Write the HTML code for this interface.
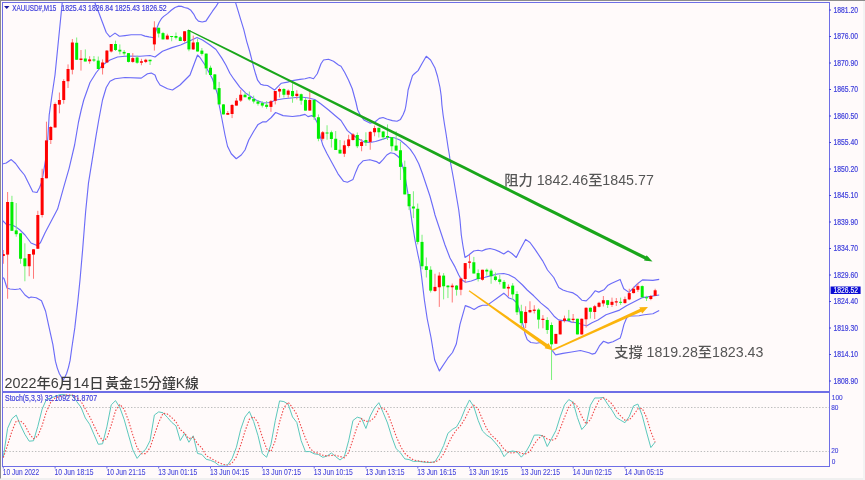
<!DOCTYPE html><html><head><meta charset="utf-8"><style>
html,body{margin:0;padding:0;background:#fffafa;width:865px;height:480px;overflow:hidden}
svg{display:block}
.ax{font-family:"Liberation Sans",sans-serif;font-size:8.5px;fill:#4242dc;stroke:#4242dc;stroke-width:0.2px}
.cj{font-family:"Liberation Sans","Noto Sans CJK TC",sans-serif;fill:#555;font-weight:500}
</style></head><body>
<svg width="865" height="480" viewBox="0 0 865 480">
<rect x="0" y="0" width="865" height="480" fill="#fffafa"/>
<rect x="0" y="478" width="865" height="2" fill="#f0f0f0"/>
<rect x="863" y="0" width="2" height="480" fill="#f3f3f3"/>
<rect x="0" y="0" width="865" height="1" fill="#8c8c8c"/>
<rect x="0" y="0" width="1" height="478.5" fill="#8c8c8c"/>
<defs><clipPath id="cm"><rect x="2.5" y="2.5" width="826.5" height="388"/></clipPath>
<clipPath id="cs"><rect x="2.5" y="392.5" width="826.5" height="73"/></clipPath></defs>
<g clip-path="url(#cm)" fill="none" stroke="#6c6cf8" stroke-width="1.15" stroke-linejoin="round">
<path d="M2.30,164.00 L6.25,163.00 L11.25,159.60 L15.60,163.50 L19.80,169.30 L24.50,175.00 L28.60,183.30 L32.80,191.70 L37.00,192.50 L39.60,187.50 L41.70,182.30 L43.75,170.80 L45.80,158.30 L46.90,150.00 L48.00,135.00 L49.20,115.00 L52.00,95.00 L55.00,75.00 L57.00,55.00 L58.75,37.50 L61.25,12.50 L62.50,0.00"/>
<path d="M93.75,0.00 L98.75,12.50 L102.50,22.50 L106.25,32.50 L109.90,36.90 L115.00,33.10 L119.40,36.25 L125.00,35.60 L131.25,34.75 L141.25,34.75 L145.00,36.10 L149.00,36.90 L152.50,37.50 L153.90,38.00 L155.30,32.80 L157.20,27.20 L159.10,22.50 L161.40,18.70 L163.70,16.40 L167.50,13.60 L171.20,10.30 L175.00,7.50 L178.70,6.10 L181.60,6.40 L184.40,7.50 L188.10,8.40 L190.90,10.30 L193.70,14.10 L196.10,18.70 L198.40,21.10 L202.20,22.00 L205.90,21.10 L208.70,16.90 L212.50,11.20 L216.20,6.10 L218.60,2.30 L219.50,0.00"/>
<path d="M234.70,0.00 L235.50,2.40 L237.80,9.90 L240.80,19.80 L243.80,29.70 L246.75,41.60 L249.70,51.50 L251.70,59.40 L253.70,67.30 L255.70,74.30 L257.60,80.20 L260.60,84.20 L263.60,85.10 L267.50,85.50 L271.50,88.10 L274.50,90.10 L277.40,87.10 L281.40,83.20 L287.50,82.10 L292.50,80.60 L300.00,79.40 L305.00,78.75 L309.75,77.50 L313.50,78.75 L317.25,73.75 L321.00,63.75 L323.50,60.00 L328.50,59.25 L333.50,61.25 L338.50,65.00 L341.00,66.25 L344.75,72.50 L348.50,80.00 L352.25,88.75 L356.00,102.50 L357.70,110.00 L360.50,115.60 L364.30,120.30 L369.90,123.10 L374.60,122.20 L379.30,118.40 L383.00,117.50 L386.80,119.00 L392.40,120.60 L397.00,121.20 L400.50,119.40 L403.20,114.50 L405.00,110.00 L405.80,106.25 L407.50,95.00 L408.10,90.00 L410.00,83.75 L412.50,75.60 L414.40,73.75 L418.10,70.60 L421.90,63.75 L426.25,56.25 L430.60,60.00 L435.00,68.10 L437.50,76.25 L440.00,87.50 L441.25,96.25 L441.90,105.00 L443.10,115.00 L444.40,123.75 L446.25,135.00 L448.10,147.50 L449.40,155.00 L450.00,160.00 L451.90,170.00 L453.75,180.00 L455.60,191.25 L457.50,202.50 L458.75,210.00 L460.00,220.00 L461.30,235.00 L462.80,245.00 L465.00,257.50 L468.75,255.00 L473.75,251.00 L478.10,250.25 L481.90,251.00 L485.60,249.40 L490.00,248.50 L495.00,249.75 L500.00,251.90 L503.75,254.00 L508.10,251.00 L511.90,253.50 L516.25,257.50 L520.60,248.75 L525.60,239.40 L530.00,242.50 L535.00,249.40 L542.50,260.60 L547.50,270.00 L553.75,277.50 L558.75,287.50 L562.90,290.00 L567.30,291.50 L573.10,292.90 L577.50,295.80 L581.80,300.20 L586.20,300.90 L590.60,296.60 L595.10,290.80 L598.75,292.10 L604.00,289.80 L607.60,285.60 L611.25,283.50 L620.10,279.40 L623.75,288.75 L629.00,292.40 L637.80,283.50 L642.50,279.90 L652.90,280.40 L659.20,279.40"/>
<path d="M2.00,220.00 L7.00,225.00 L11.00,224.50 L16.00,227.00 L20.00,230.00 L25.00,235.00 L31.00,243.00 L37.00,245.50 L40.40,242.70 L45.20,232.40 L51.40,220.80 L57.60,209.10 L63.30,188.70 L69.10,168.30 L74.60,145.00 L78.50,122.00 L81.20,110.00 L83.75,100.00 L90.00,82.50 L96.25,72.50 L102.50,65.00 L110.00,60.00 L117.50,57.00 L127.50,56.00 L140.00,56.25 L150.00,55.50 L155.00,57.00 L162.50,51.25 L172.00,47.60 L180.60,45.00 L189.00,41.20 L197.00,37.50 L202.50,40.00 L210.00,45.00 L216.00,49.50 L222.00,58.40 L226.00,65.30 L229.90,73.30 L233.90,79.20 L239.80,87.10 L245.80,93.10 L248.50,95.00 L256.00,100.00 L263.50,103.00 L269.75,102.50 L276.00,100.00 L283.50,98.75 L291.00,98.00 L301.00,97.00 L308.50,98.00 L314.75,99.50 L321.00,104.00 L328.60,110.00 L335.00,115.50 L341.00,120.50 L347.40,130.60 L353.00,135.30 L358.70,139.10 L364.30,141.90 L369.90,142.50 L375.50,141.50 L383.00,139.10 L388.70,137.20 L394.30,137.80 L399.90,140.00 L405.60,144.70 L410.30,149.40 L414.50,155.50 L418.75,163.75 L422.50,173.75 L426.25,185.00 L430.00,196.25 L433.75,210.00 L435.00,215.00 L440.00,230.00 L445.00,245.00 L450.00,258.00 L455.00,266.90 L458.75,275.00 L461.25,279.40 L465.60,282.25 L471.25,281.00 L477.50,278.75 L485.00,277.25 L491.25,275.60 L497.50,274.00 L503.75,273.50 L508.75,274.75 L515.00,278.10 L522.50,285.00 L527.20,290.00 L533.70,295.80 L541.00,303.10 L548.30,309.00 L554.10,316.20 L558.50,319.90 L562.90,320.60 L567.30,320.60 L571.60,322.10 L577.50,322.80 L583.30,325.00 L586.90,325.70 L592.00,322.80 L598.00,319.90 L606.00,314.80 L619.60,310.10 L626.90,305.40 L635.20,301.25 L642.50,297.60 L659.20,295.00"/>
<path d="M2.00,277.00 L4.00,278.50 L7.00,288.00 L10.00,289.00 L15.00,289.50 L19.00,289.00 L20.00,288.50 L25.00,295.00 L29.00,298.00 L31.00,297.00 L36.25,297.70 L41.50,300.80 L45.60,311.25 L48.75,325.80 L52.90,344.60 L55.40,361.20 L57.30,368.10 L59.30,373.50 L62.40,378.90 L63.10,380.10 L64.70,377.40 L66.60,373.50 L68.50,367.30 L70.10,360.40 L71.70,348.75 L74.80,327.90 L77.90,300.80 L80.00,280.00 L82.60,250.00 L85.60,212.00 L88.50,182.90 L92.90,155.70 L96.00,136.20 L98.75,120.00 L102.50,100.00 L106.25,87.50 L110.00,81.25 L115.00,78.75 L125.00,77.50 L141.25,78.10 L147.50,73.75 L151.25,73.10 L155.00,75.00 L156.90,80.00 L160.00,85.00 L167.50,88.75 L172.50,90.00 L180.00,85.00 L190.00,75.00 L197.50,55.00 L200.00,57.50 L205.00,65.00 L212.50,79.00 L217.50,94.00 L219.40,106.25 L221.90,118.75 L225.00,135.00 L227.50,146.25 L231.25,153.75 L236.25,158.75 L241.25,155.00 L245.00,150.00 L248.75,140.00 L253.75,131.25 L258.10,124.40 L262.50,121.90 L266.25,121.90 L271.25,117.50 L275.60,112.50 L283.10,115.60 L292.50,116.50 L300.00,115.60 L305.00,114.40 L308.00,116.60 L311.75,115.60 L314.60,117.50 L317.40,123.10 L320.20,136.30 L323.00,145.60 L326.80,153.20 L332.40,163.50 L338.00,173.80 L343.60,181.30 L347.40,182.20 L353.00,179.40 L355.80,171.90 L358.70,165.30 L363.30,160.70 L369.90,159.70 L376.50,161.60 L379.30,163.50 L383.00,159.70 L386.80,155.00 L390.50,152.80 L394.30,153.50 L398.10,156.50 L400.90,159.70 L402.70,166.30 L404.60,173.80 L406.50,185.00 L408.40,196.30 L410.00,208.00 L412.00,222.00 L415.00,240.00 L418.00,255.00 L420.00,264.00 L422.00,280.00 L424.40,300.00 L427.20,318.75 L431.00,337.50 L434.70,360.00 L439.40,370.90 L447.80,358.20 L452.50,352.50 L456.30,344.00 L460.00,324.40 L465.30,305.60 L469.40,307.10 L474.10,309.40 L478.80,306.60 L482.50,305.25 L487.20,305.25 L491.90,301.90 L497.30,298.00 L503.80,293.20 L506.00,295.10 L509.00,298.00 L513.30,299.50 L517.00,303.10 L519.20,309.00 L521.30,319.20 L523.50,326.40 L525.00,333.70 L527.20,339.60 L530.80,342.50 L536.60,343.20 L540.30,342.50 L543.20,343.20 L546.90,344.70 L549.80,346.90 L552.70,351.20 L555.60,354.90 L562.90,353.40 L571.60,352.00 L580.40,350.50 L589.10,352.70 L592.00,354.10 L595.00,353.40 L596.25,351.70 L599.40,345.90 L603.50,341.25 L608.20,343.10 L612.90,341.80 L620.20,338.10 L621.80,332.90 L623.90,324.60 L626.50,318.30 L628.50,315.70 L632.70,316.00 L639.00,315.70 L644.20,314.70 L652.90,313.75 L659.20,310.60"/>
</g>
<g clip-path="url(#cm)">
<rect x="2.78" y="250.00" width="1" height="13.75" fill="#ff7a7a"/>
<rect x="1.78" y="254.00" width="3" height="2.00" fill="#ff0000"/>
<rect x="7.10" y="192.00" width="1" height="106.75" fill="#ff7a7a"/>
<rect x="6.10" y="202.00" width="3" height="52.60" fill="#ff0000"/>
<rect x="11.42" y="195.80" width="1" height="35.00" fill="#7cf07c"/>
<rect x="10.42" y="202.00" width="3" height="28.80" fill="#00ee00"/>
<rect x="15.73" y="203.00" width="1" height="33.70" fill="#7cf07c"/>
<rect x="14.73" y="230.40" width="3" height="3.80" fill="#00ee00"/>
<rect x="20.05" y="233.00" width="1" height="30.75" fill="#7cf07c"/>
<rect x="19.05" y="233.30" width="3" height="25.45" fill="#00ee00"/>
<rect x="24.37" y="243.30" width="1" height="37.95" fill="#7cf07c"/>
<rect x="23.37" y="258.30" width="3" height="7.95" fill="#00ee00"/>
<rect x="28.69" y="254.00" width="1" height="22.25" fill="#ff7a7a"/>
<rect x="27.69" y="254.00" width="3" height="12.25" fill="#ff0000"/>
<rect x="33.00" y="249.00" width="1" height="29.75" fill="#ff7a7a"/>
<rect x="32.00" y="249.30" width="3" height="5.30" fill="#ff0000"/>
<rect x="37.32" y="210.80" width="1" height="38.20" fill="#ff7a7a"/>
<rect x="36.32" y="215.00" width="3" height="33.75" fill="#ff0000"/>
<rect x="41.64" y="168.75" width="1" height="48.75" fill="#ff7a7a"/>
<rect x="40.64" y="178.00" width="3" height="37.00" fill="#ff0000"/>
<rect x="45.95" y="121.70" width="1" height="56.60" fill="#ff7a7a"/>
<rect x="44.95" y="140.40" width="3" height="37.90" fill="#ff0000"/>
<rect x="50.27" y="126.00" width="1" height="18.00" fill="#ff7a7a"/>
<rect x="49.27" y="127.00" width="3" height="13.00" fill="#ff0000"/>
<rect x="54.59" y="102.50" width="1" height="25.00" fill="#ff7a7a"/>
<rect x="53.59" y="104.00" width="3" height="23.50" fill="#ff0000"/>
<rect x="58.90" y="92.50" width="1" height="20.80" fill="#ff7a7a"/>
<rect x="57.90" y="100.00" width="3" height="4.60" fill="#ff0000"/>
<rect x="63.22" y="79.20" width="1" height="24.55" fill="#ff7a7a"/>
<rect x="62.22" y="81.00" width="3" height="19.00" fill="#ff0000"/>
<rect x="67.54" y="64.40" width="1" height="23.60" fill="#ff7a7a"/>
<rect x="66.54" y="69.00" width="3" height="12.25" fill="#ff0000"/>
<rect x="71.85" y="39.00" width="1" height="35.40" fill="#ff7a7a"/>
<rect x="70.85" y="42.50" width="3" height="27.25" fill="#ff0000"/>
<rect x="76.17" y="37.50" width="1" height="22.50" fill="#7cf07c"/>
<rect x="75.17" y="42.75" width="3" height="17.00" fill="#00ee00"/>
<rect x="80.49" y="50.00" width="1" height="20.60" fill="#ff7a7a"/>
<rect x="79.49" y="58.50" width="3" height="1.50" fill="#ff0000"/>
<rect x="84.81" y="49.40" width="1" height="12.10" fill="#7cf07c"/>
<rect x="83.81" y="58.50" width="3" height="3.00" fill="#00ee00"/>
<rect x="89.12" y="56.25" width="1" height="7.50" fill="#ff7a7a"/>
<rect x="88.12" y="59.40" width="3" height="1.85" fill="#ff0000"/>
<rect x="93.44" y="56.00" width="1" height="6.00" fill="#7cf07c"/>
<rect x="92.44" y="59.40" width="3" height="1.20" fill="#00ee00"/>
<rect x="97.76" y="56.50" width="1" height="12.50" fill="#7cf07c"/>
<rect x="96.76" y="60.60" width="3" height="8.40" fill="#00ee00"/>
<rect x="102.07" y="59.40" width="1" height="15.10" fill="#ff7a7a"/>
<rect x="101.07" y="62.50" width="3" height="5.60" fill="#ff0000"/>
<rect x="106.39" y="50.00" width="1" height="12.50" fill="#ff7a7a"/>
<rect x="105.39" y="50.60" width="3" height="11.90" fill="#ff0000"/>
<rect x="110.71" y="44.00" width="1" height="8.50" fill="#ff7a7a"/>
<rect x="109.71" y="44.00" width="3" height="7.50" fill="#ff0000"/>
<rect x="115.03" y="40.60" width="1" height="10.40" fill="#7cf07c"/>
<rect x="114.03" y="44.00" width="3" height="6.00" fill="#00ee00"/>
<rect x="119.34" y="44.40" width="1" height="10.00" fill="#7cf07c"/>
<rect x="118.34" y="49.75" width="3" height="1.75" fill="#00ee00"/>
<rect x="123.66" y="50.00" width="1" height="5.60" fill="#7cf07c"/>
<rect x="122.66" y="51.90" width="3" height="1.60" fill="#00ee00"/>
<rect x="127.98" y="53.00" width="1" height="9.50" fill="#7cf07c"/>
<rect x="126.98" y="53.10" width="3" height="8.80" fill="#00ee00"/>
<rect x="132.29" y="53.10" width="1" height="9.65" fill="#ff7a7a"/>
<rect x="131.29" y="58.10" width="3" height="3.80" fill="#ff0000"/>
<rect x="136.61" y="55.60" width="1" height="8.15" fill="#7cf07c"/>
<rect x="135.61" y="57.50" width="3" height="5.25" fill="#00ee00"/>
<rect x="140.93" y="58.75" width="1" height="6.50" fill="#ff7a7a"/>
<rect x="139.93" y="61.25" width="3" height="1.50" fill="#ff0000"/>
<rect x="145.24" y="58.75" width="1" height="4.35" fill="#ff7a7a"/>
<rect x="144.24" y="59.75" width="3" height="2.15" fill="#ff0000"/>
<rect x="149.56" y="59.75" width="1" height="5.25" fill="#7cf07c"/>
<rect x="148.56" y="59.75" width="3" height="1.50" fill="#00ee00"/>
<rect x="153.88" y="21.25" width="1" height="29.35" fill="#ff7a7a"/>
<rect x="152.88" y="27.50" width="3" height="16.90" fill="#ff0000"/>
<rect x="158.19" y="27.75" width="1" height="9.75" fill="#7cf07c"/>
<rect x="157.19" y="27.75" width="3" height="5.75" fill="#00ee00"/>
<rect x="162.51" y="31.90" width="1" height="7.50" fill="#7cf07c"/>
<rect x="161.51" y="33.10" width="3" height="6.30" fill="#00ee00"/>
<rect x="166.83" y="33.75" width="1" height="5.65" fill="#ff7a7a"/>
<rect x="165.83" y="35.60" width="3" height="3.80" fill="#ff0000"/>
<rect x="171.15" y="36.00" width="1" height="5.25" fill="#7cf07c"/>
<rect x="170.15" y="36.00" width="3" height="1.00" fill="#00ee00"/>
<rect x="175.46" y="32.50" width="1" height="6.90" fill="#7cf07c"/>
<rect x="174.46" y="36.00" width="3" height="1.75" fill="#00ee00"/>
<rect x="179.78" y="36.00" width="1" height="5.00" fill="#7cf07c"/>
<rect x="178.78" y="37.25" width="3" height="3.75" fill="#00ee00"/>
<rect x="184.10" y="31.25" width="1" height="11.25" fill="#ff7a7a"/>
<rect x="183.10" y="31.25" width="3" height="9.75" fill="#ff0000"/>
<rect x="188.41" y="30.00" width="1" height="21.25" fill="#7cf07c"/>
<rect x="187.41" y="30.00" width="3" height="19.40" fill="#00ee00"/>
<rect x="192.73" y="35.60" width="1" height="14.40" fill="#ff7a7a"/>
<rect x="191.73" y="42.50" width="3" height="6.90" fill="#ff0000"/>
<rect x="197.05" y="38.75" width="1" height="12.75" fill="#7cf07c"/>
<rect x="196.05" y="42.25" width="3" height="9.25" fill="#00ee00"/>
<rect x="201.37" y="48.00" width="1" height="7.60" fill="#7cf07c"/>
<rect x="200.37" y="50.60" width="3" height="3.30" fill="#00ee00"/>
<rect x="205.68" y="53.50" width="1" height="21.10" fill="#7cf07c"/>
<rect x="204.68" y="53.60" width="3" height="14.80" fill="#00ee00"/>
<rect x="210.00" y="65.60" width="1" height="9.40" fill="#7cf07c"/>
<rect x="209.00" y="67.75" width="3" height="7.25" fill="#00ee00"/>
<rect x="214.32" y="74.00" width="1" height="15.40" fill="#7cf07c"/>
<rect x="213.32" y="74.40" width="3" height="15.00" fill="#00ee00"/>
<rect x="218.63" y="81.90" width="1" height="22.50" fill="#7cf07c"/>
<rect x="217.63" y="88.10" width="3" height="16.30" fill="#00ee00"/>
<rect x="222.95" y="104.00" width="1" height="10.40" fill="#7cf07c"/>
<rect x="221.95" y="104.40" width="3" height="10.00" fill="#00ee00"/>
<rect x="227.27" y="111.00" width="1" height="3.75" fill="#ff7a7a"/>
<rect x="226.27" y="113.00" width="3" height="1.75" fill="#ff0000"/>
<rect x="231.58" y="104.00" width="1" height="14.10" fill="#ff7a7a"/>
<rect x="230.58" y="105.00" width="3" height="9.00" fill="#ff0000"/>
<rect x="235.90" y="98.00" width="1" height="7.60" fill="#ff7a7a"/>
<rect x="234.90" y="100.60" width="3" height="5.00" fill="#ff0000"/>
<rect x="240.22" y="89.75" width="1" height="12.25" fill="#ff7a7a"/>
<rect x="239.22" y="94.75" width="3" height="5.85" fill="#ff0000"/>
<rect x="244.53" y="92.50" width="1" height="4.75" fill="#7cf07c"/>
<rect x="243.53" y="94.75" width="3" height="2.50" fill="#00ee00"/>
<rect x="248.85" y="91.50" width="1" height="9.10" fill="#7cf07c"/>
<rect x="247.85" y="96.90" width="3" height="2.50" fill="#00ee00"/>
<rect x="253.17" y="95.60" width="1" height="7.90" fill="#7cf07c"/>
<rect x="252.17" y="99.00" width="3" height="2.50" fill="#00ee00"/>
<rect x="257.49" y="100.00" width="1" height="5.60" fill="#7cf07c"/>
<rect x="256.49" y="101.50" width="3" height="2.25" fill="#00ee00"/>
<rect x="261.80" y="101.25" width="1" height="6.25" fill="#7cf07c"/>
<rect x="260.80" y="103.10" width="3" height="2.50" fill="#00ee00"/>
<rect x="266.12" y="101.00" width="1" height="7.75" fill="#7cf07c"/>
<rect x="265.12" y="104.75" width="3" height="2.15" fill="#00ee00"/>
<rect x="270.44" y="100.00" width="1" height="11.90" fill="#ff7a7a"/>
<rect x="269.44" y="101.25" width="3" height="5.65" fill="#ff0000"/>
<rect x="274.75" y="91.00" width="1" height="13.40" fill="#ff7a7a"/>
<rect x="273.75" y="91.00" width="3" height="9.80" fill="#ff0000"/>
<rect x="279.07" y="87.50" width="1" height="10.00" fill="#ff7a7a"/>
<rect x="278.07" y="89.00" width="3" height="2.50" fill="#ff0000"/>
<rect x="283.39" y="88.10" width="1" height="9.40" fill="#7cf07c"/>
<rect x="282.39" y="89.00" width="3" height="5.75" fill="#00ee00"/>
<rect x="287.71" y="89.40" width="1" height="8.35" fill="#ff7a7a"/>
<rect x="286.71" y="90.60" width="3" height="4.15" fill="#ff0000"/>
<rect x="292.02" y="83.10" width="1" height="19.65" fill="#7cf07c"/>
<rect x="291.02" y="91.00" width="3" height="5.25" fill="#00ee00"/>
<rect x="296.34" y="90.25" width="1" height="9.15" fill="#ff7a7a"/>
<rect x="295.34" y="93.75" width="3" height="2.25" fill="#ff0000"/>
<rect x="300.66" y="93.50" width="1" height="11.20" fill="#7cf07c"/>
<rect x="299.66" y="94.20" width="3" height="6.40" fill="#00ee00"/>
<rect x="304.97" y="98.00" width="1" height="12.60" fill="#7cf07c"/>
<rect x="303.97" y="99.90" width="3" height="10.70" fill="#00ee00"/>
<rect x="309.29" y="91.90" width="1" height="18.70" fill="#ff7a7a"/>
<rect x="308.29" y="100.00" width="3" height="10.60" fill="#ff0000"/>
<rect x="313.61" y="100.00" width="1" height="20.00" fill="#7cf07c"/>
<rect x="312.61" y="100.00" width="3" height="16.90" fill="#00ee00"/>
<rect x="317.92" y="114.40" width="1" height="26.85" fill="#7cf07c"/>
<rect x="316.92" y="117.25" width="3" height="21.50" fill="#00ee00"/>
<rect x="322.24" y="131.00" width="1" height="9.60" fill="#ff7a7a"/>
<rect x="321.24" y="132.25" width="3" height="6.50" fill="#ff0000"/>
<rect x="326.56" y="125.25" width="1" height="14.50" fill="#7cf07c"/>
<rect x="325.56" y="132.50" width="3" height="1.00" fill="#00ee00"/>
<rect x="330.88" y="130.60" width="1" height="16.90" fill="#7cf07c"/>
<rect x="329.88" y="132.25" width="3" height="6.75" fill="#00ee00"/>
<rect x="335.19" y="131.00" width="1" height="19.00" fill="#7cf07c"/>
<rect x="334.19" y="138.75" width="3" height="11.25" fill="#00ee00"/>
<rect x="339.51" y="140.00" width="1" height="13.50" fill="#7cf07c"/>
<rect x="338.51" y="149.75" width="3" height="3.75" fill="#00ee00"/>
<rect x="343.83" y="140.60" width="1" height="16.30" fill="#ff7a7a"/>
<rect x="342.83" y="145.25" width="3" height="8.50" fill="#ff0000"/>
<rect x="348.14" y="134.75" width="1" height="12.75" fill="#ff7a7a"/>
<rect x="347.14" y="139.40" width="3" height="6.60" fill="#ff0000"/>
<rect x="352.46" y="133.10" width="1" height="7.50" fill="#ff7a7a"/>
<rect x="351.46" y="134.40" width="3" height="5.60" fill="#ff0000"/>
<rect x="356.78" y="132.50" width="1" height="15.60" fill="#7cf07c"/>
<rect x="355.78" y="135.00" width="3" height="11.25" fill="#00ee00"/>
<rect x="361.09" y="139.00" width="1" height="12.25" fill="#ff7a7a"/>
<rect x="360.09" y="141.90" width="3" height="4.10" fill="#ff0000"/>
<rect x="365.41" y="132.25" width="1" height="13.75" fill="#7cf07c"/>
<rect x="364.41" y="140.00" width="3" height="2.50" fill="#00ee00"/>
<rect x="369.73" y="131.00" width="1" height="18.75" fill="#ff7a7a"/>
<rect x="368.73" y="131.90" width="3" height="10.00" fill="#ff0000"/>
<rect x="374.05" y="125.60" width="1" height="10.65" fill="#ff7a7a"/>
<rect x="373.05" y="128.10" width="3" height="4.15" fill="#ff0000"/>
<rect x="378.36" y="127.75" width="1" height="9.75" fill="#7cf07c"/>
<rect x="377.36" y="127.75" width="3" height="4.50" fill="#00ee00"/>
<rect x="382.68" y="131.00" width="1" height="9.00" fill="#7cf07c"/>
<rect x="381.68" y="131.50" width="3" height="5.75" fill="#00ee00"/>
<rect x="387.00" y="124.40" width="1" height="15.60" fill="#7cf07c"/>
<rect x="386.00" y="136.00" width="3" height="1.50" fill="#00ee00"/>
<rect x="391.31" y="137.00" width="1" height="14.50" fill="#7cf07c"/>
<rect x="390.31" y="137.25" width="3" height="9.00" fill="#00ee00"/>
<rect x="395.63" y="131.25" width="1" height="19.35" fill="#7cf07c"/>
<rect x="394.63" y="145.60" width="3" height="5.00" fill="#00ee00"/>
<rect x="399.95" y="141.90" width="1" height="38.10" fill="#7cf07c"/>
<rect x="398.95" y="150.25" width="3" height="16.65" fill="#00ee00"/>
<rect x="404.26" y="160.60" width="1" height="33.80" fill="#7cf07c"/>
<rect x="403.26" y="166.90" width="3" height="27.50" fill="#00ee00"/>
<rect x="408.58" y="194.00" width="1" height="16.00" fill="#7cf07c"/>
<rect x="407.58" y="194.00" width="3" height="12.25" fill="#00ee00"/>
<rect x="412.90" y="191.25" width="1" height="26.85" fill="#7cf07c"/>
<rect x="411.90" y="206.50" width="3" height="2.00" fill="#00ee00"/>
<rect x="417.22" y="203.50" width="1" height="40.90" fill="#7cf07c"/>
<rect x="416.22" y="208.75" width="3" height="33.15" fill="#00ee00"/>
<rect x="421.53" y="234.75" width="1" height="34.65" fill="#7cf07c"/>
<rect x="420.53" y="241.90" width="3" height="24.35" fill="#00ee00"/>
<rect x="425.85" y="257.50" width="1" height="20.00" fill="#7cf07c"/>
<rect x="424.85" y="266.25" width="3" height="3.75" fill="#00ee00"/>
<rect x="430.17" y="266.25" width="1" height="26.25" fill="#7cf07c"/>
<rect x="429.17" y="269.75" width="3" height="20.85" fill="#00ee00"/>
<rect x="434.48" y="273.75" width="1" height="18.15" fill="#ff7a7a"/>
<rect x="433.48" y="286.90" width="3" height="4.10" fill="#ff0000"/>
<rect x="438.80" y="272.25" width="1" height="34.65" fill="#ff7a7a"/>
<rect x="437.80" y="275.60" width="3" height="11.65" fill="#ff0000"/>
<rect x="443.12" y="273.10" width="1" height="26.30" fill="#7cf07c"/>
<rect x="442.12" y="275.60" width="3" height="10.65" fill="#00ee00"/>
<rect x="447.43" y="285.00" width="1" height="13.10" fill="#7cf07c"/>
<rect x="446.43" y="285.60" width="3" height="1.65" fill="#00ee00"/>
<rect x="451.75" y="283.50" width="1" height="19.00" fill="#ff7a7a"/>
<rect x="450.75" y="285.60" width="3" height="1.65" fill="#ff0000"/>
<rect x="456.07" y="285.00" width="1" height="10.60" fill="#7cf07c"/>
<rect x="455.07" y="285.60" width="3" height="4.15" fill="#00ee00"/>
<rect x="460.39" y="277.50" width="1" height="17.75" fill="#ff7a7a"/>
<rect x="459.39" y="278.50" width="3" height="11.25" fill="#ff0000"/>
<rect x="464.70" y="263.00" width="1" height="19.75" fill="#ff7a7a"/>
<rect x="463.70" y="263.10" width="3" height="15.90" fill="#ff0000"/>
<rect x="469.02" y="255.00" width="1" height="13.50" fill="#ff7a7a"/>
<rect x="468.02" y="261.50" width="3" height="1.25" fill="#ff0000"/>
<rect x="473.34" y="256.90" width="1" height="16.60" fill="#7cf07c"/>
<rect x="472.34" y="262.25" width="3" height="11.25" fill="#00ee00"/>
<rect x="477.65" y="269.40" width="1" height="12.10" fill="#7cf07c"/>
<rect x="476.65" y="273.10" width="3" height="5.90" fill="#00ee00"/>
<rect x="481.97" y="269.75" width="1" height="10.85" fill="#ff7a7a"/>
<rect x="480.97" y="269.75" width="3" height="10.00" fill="#ff0000"/>
<rect x="486.29" y="268.50" width="1" height="7.10" fill="#7cf07c"/>
<rect x="485.29" y="269.75" width="3" height="1.75" fill="#00ee00"/>
<rect x="490.60" y="268.75" width="1" height="15.00" fill="#7cf07c"/>
<rect x="489.60" y="270.60" width="3" height="5.65" fill="#00ee00"/>
<rect x="494.92" y="272.50" width="1" height="8.75" fill="#7cf07c"/>
<rect x="493.92" y="276.50" width="3" height="3.50" fill="#00ee00"/>
<rect x="499.24" y="275.00" width="1" height="9.40" fill="#7cf07c"/>
<rect x="498.24" y="279.40" width="3" height="2.50" fill="#00ee00"/>
<rect x="503.56" y="280.00" width="1" height="8.60" fill="#7cf07c"/>
<rect x="502.56" y="281.90" width="3" height="6.70" fill="#00ee00"/>
<rect x="507.87" y="284.40" width="1" height="11.85" fill="#ff7a7a"/>
<rect x="506.87" y="286.90" width="3" height="1.60" fill="#ff0000"/>
<rect x="512.19" y="283.10" width="1" height="16.90" fill="#7cf07c"/>
<rect x="511.19" y="285.60" width="3" height="8.80" fill="#00ee00"/>
<rect x="516.51" y="291.25" width="1" height="23.75" fill="#7cf07c"/>
<rect x="515.51" y="294.00" width="3" height="18.25" fill="#00ee00"/>
<rect x="520.82" y="304.75" width="1" height="23.35" fill="#7cf07c"/>
<rect x="519.82" y="311.25" width="3" height="11.85" fill="#00ee00"/>
<rect x="525.14" y="306.25" width="1" height="21.85" fill="#ff7a7a"/>
<rect x="524.14" y="311.90" width="3" height="11.20" fill="#ff0000"/>
<rect x="529.46" y="301.25" width="1" height="11.85" fill="#ff7a7a"/>
<rect x="528.46" y="310.00" width="3" height="2.25" fill="#ff0000"/>
<rect x="533.77" y="305.20" width="1" height="8.30" fill="#ff7a7a"/>
<rect x="532.77" y="309.60" width="3" height="1.30" fill="#ff0000"/>
<rect x="538.09" y="308.30" width="1" height="20.30" fill="#7cf07c"/>
<rect x="537.09" y="309.60" width="3" height="10.00" fill="#00ee00"/>
<rect x="542.41" y="315.10" width="1" height="13.20" fill="#ff7a7a"/>
<rect x="541.41" y="318.75" width="3" height="1.25" fill="#ff0000"/>
<rect x="546.73" y="317.20" width="1" height="16.70" fill="#7cf07c"/>
<rect x="545.73" y="320.00" width="3" height="10.00" fill="#00ee00"/>
<rect x="551.04" y="322.40" width="1" height="57.60" fill="#7cf07c"/>
<rect x="550.04" y="325.00" width="3" height="19.30" fill="#00ee00"/>
<rect x="555.36" y="333.90" width="1" height="9.85" fill="#ff7a7a"/>
<rect x="554.36" y="333.90" width="3" height="9.85" fill="#ff0000"/>
<rect x="559.68" y="320.80" width="1" height="13.60" fill="#ff7a7a"/>
<rect x="558.68" y="320.80" width="3" height="13.60" fill="#ff0000"/>
<rect x="563.99" y="315.60" width="1" height="6.80" fill="#ff7a7a"/>
<rect x="562.99" y="318.50" width="3" height="2.30" fill="#ff0000"/>
<rect x="568.31" y="309.90" width="1" height="11.35" fill="#7cf07c"/>
<rect x="567.31" y="318.50" width="3" height="2.30" fill="#00ee00"/>
<rect x="572.63" y="314.00" width="1" height="8.40" fill="#ff7a7a"/>
<rect x="571.63" y="318.75" width="3" height="1.25" fill="#ff0000"/>
<rect x="576.94" y="318.75" width="1" height="15.65" fill="#7cf07c"/>
<rect x="575.94" y="318.75" width="3" height="15.65" fill="#00ee00"/>
<rect x="581.26" y="318.50" width="1" height="16.25" fill="#ff7a7a"/>
<rect x="580.26" y="318.75" width="3" height="15.65" fill="#ff0000"/>
<rect x="585.58" y="307.25" width="1" height="20.35" fill="#ff7a7a"/>
<rect x="584.58" y="307.80" width="3" height="11.50" fill="#ff0000"/>
<rect x="589.90" y="307.50" width="1" height="11.00" fill="#7cf07c"/>
<rect x="588.90" y="307.75" width="3" height="4.05" fill="#00ee00"/>
<rect x="594.21" y="304.90" width="1" height="14.10" fill="#ff7a7a"/>
<rect x="593.21" y="306.25" width="3" height="5.75" fill="#ff0000"/>
<rect x="598.53" y="301.80" width="1" height="5.70" fill="#ff7a7a"/>
<rect x="597.53" y="302.80" width="3" height="4.00" fill="#ff0000"/>
<rect x="602.85" y="296.00" width="1" height="10.50" fill="#ff7a7a"/>
<rect x="601.85" y="300.20" width="3" height="3.30" fill="#ff0000"/>
<rect x="607.16" y="300.00" width="1" height="8.00" fill="#7cf07c"/>
<rect x="606.16" y="300.20" width="3" height="4.70" fill="#00ee00"/>
<rect x="611.48" y="297.60" width="1" height="9.40" fill="#ff7a7a"/>
<rect x="610.48" y="301.80" width="3" height="3.10" fill="#ff0000"/>
<rect x="615.80" y="298.00" width="1" height="8.00" fill="#ff7a7a"/>
<rect x="614.80" y="301.25" width="3" height="1.25" fill="#ff0000"/>
<rect x="620.11" y="297.60" width="1" height="7.30" fill="#7cf07c"/>
<rect x="619.11" y="301.80" width="3" height="1.00" fill="#00ee00"/>
<rect x="624.43" y="296.60" width="1" height="6.90" fill="#ff7a7a"/>
<rect x="623.43" y="299.20" width="3" height="3.90" fill="#ff0000"/>
<rect x="628.75" y="288.75" width="1" height="11.45" fill="#ff7a7a"/>
<rect x="627.75" y="293.10" width="3" height="6.30" fill="#ff0000"/>
<rect x="633.07" y="286.70" width="1" height="6.70" fill="#ff7a7a"/>
<rect x="632.07" y="288.75" width="3" height="4.35" fill="#ff0000"/>
<rect x="637.38" y="283.00" width="1" height="8.90" fill="#ff7a7a"/>
<rect x="636.38" y="286.10" width="3" height="3.70" fill="#ff0000"/>
<rect x="641.70" y="285.40" width="1" height="11.90" fill="#7cf07c"/>
<rect x="640.70" y="286.10" width="3" height="11.20" fill="#00ee00"/>
<rect x="646.02" y="295.80" width="1" height="5.20" fill="#7cf07c"/>
<rect x="645.02" y="297.30" width="3" height="1.00" fill="#00ee00"/>
<rect x="650.33" y="295.00" width="1" height="5.20" fill="#ff7a7a"/>
<rect x="649.33" y="296.00" width="3" height="3.00" fill="#ff0000"/>
<rect x="654.65" y="288.75" width="1" height="7.05" fill="#ff7a7a"/>
<rect x="653.65" y="290.30" width="3" height="5.50" fill="#ff0000"/>
</g>
<g fill="none" stroke="#6e6ee6" stroke-width="1">
<rect x="2.5" y="2.5" width="827" height="389"/>
<rect x="2.5" y="392.5" width="827" height="74"/>
</g>
<rect x="829" y="9.5" width="2" height="1" fill="#4242dc"/>
<text class="ax" x="833.5" y="12.7" textLength="24.5" lengthAdjust="spacingAndGlyphs">1881.20</text>
<rect x="829" y="36.0" width="2" height="1" fill="#4242dc"/>
<text class="ax" x="833.5" y="39.2" textLength="24.5" lengthAdjust="spacingAndGlyphs">1876.00</text>
<rect x="829" y="62.5" width="2" height="1" fill="#4242dc"/>
<text class="ax" x="833.5" y="65.7" textLength="24.5" lengthAdjust="spacingAndGlyphs">1870.90</text>
<rect x="829" y="89.0" width="2" height="1" fill="#4242dc"/>
<text class="ax" x="833.5" y="92.2" textLength="24.5" lengthAdjust="spacingAndGlyphs">1865.70</text>
<rect x="829" y="115.5" width="2" height="1" fill="#4242dc"/>
<text class="ax" x="833.5" y="118.7" textLength="24.5" lengthAdjust="spacingAndGlyphs">1860.50</text>
<rect x="829" y="142.0" width="2" height="1" fill="#4242dc"/>
<text class="ax" x="833.5" y="145.2" textLength="24.5" lengthAdjust="spacingAndGlyphs">1855.40</text>
<rect x="829" y="168.5" width="2" height="1" fill="#4242dc"/>
<text class="ax" x="833.5" y="171.7" textLength="24.5" lengthAdjust="spacingAndGlyphs">1850.20</text>
<rect x="829" y="195.0" width="2" height="1" fill="#4242dc"/>
<text class="ax" x="833.5" y="198.2" textLength="24.5" lengthAdjust="spacingAndGlyphs">1845.10</text>
<rect x="829" y="221.5" width="2" height="1" fill="#4242dc"/>
<text class="ax" x="833.5" y="224.7" textLength="24.5" lengthAdjust="spacingAndGlyphs">1839.90</text>
<rect x="829" y="248.0" width="2" height="1" fill="#4242dc"/>
<text class="ax" x="833.5" y="251.2" textLength="24.5" lengthAdjust="spacingAndGlyphs">1834.70</text>
<rect x="829" y="274.5" width="2" height="1" fill="#4242dc"/>
<text class="ax" x="833.5" y="277.7" textLength="24.5" lengthAdjust="spacingAndGlyphs">1829.60</text>
<rect x="829" y="301.0" width="2" height="1" fill="#4242dc"/>
<text class="ax" x="833.5" y="304.2" textLength="24.5" lengthAdjust="spacingAndGlyphs">1824.40</text>
<rect x="829" y="327.5" width="2" height="1" fill="#4242dc"/>
<text class="ax" x="833.5" y="330.7" textLength="24.5" lengthAdjust="spacingAndGlyphs">1819.30</text>
<rect x="829" y="354.0" width="2" height="1" fill="#4242dc"/>
<text class="ax" x="833.5" y="357.2" textLength="24.5" lengthAdjust="spacingAndGlyphs">1814.10</text>
<rect x="829" y="380.5" width="2" height="1" fill="#4242dc"/>
<text class="ax" x="833.5" y="383.7" textLength="24.5" lengthAdjust="spacingAndGlyphs">1808.90</text>
<rect x="830.6" y="286.5" width="30" height="7.5" fill="#0c0cd4"/>
<text class="ax" x="833.5" y="293.3" textLength="24.5" lengthAdjust="spacingAndGlyphs" style="fill:#fff;stroke:#fff;stroke-width:0.1px">1826.52</text>
<text class="ax" x="831.8" y="399.8" textLength="10.8" lengthAdjust="spacingAndGlyphs" style="font-size:7.2px;stroke-width:0.12px">100</text>
<text class="ax" x="831.2" y="409.5" textLength="7.2" lengthAdjust="spacingAndGlyphs" style="font-size:7.2px;stroke-width:0.12px">80</text>
<text class="ax" x="831.2" y="453.1" textLength="7.2" lengthAdjust="spacingAndGlyphs" style="font-size:7.2px;stroke-width:0.12px">20</text>
<text class="ax" x="831.8" y="463.9" textLength="3.6" lengthAdjust="spacingAndGlyphs" style="font-size:7.2px;stroke-width:0.12px">0</text>
<g stroke="#bdbdbd" stroke-width="1" stroke-dasharray="1.4,1.8">
<line x1="3" y1="407.5" x2="829" y2="407.5"/>
<line x1="3" y1="451.5" x2="829" y2="451.5"/>
</g>
<g clip-path="url(#cs)" fill="none">
<path d="M3.28,457.55 L7.60,428.27 L11.92,418.75 L16.23,415.09 L20.55,425.34 L24.87,434.27 L29.19,441.18 L33.50,440.78 L37.82,426.38 L42.14,409.14 L46.45,399.32 L50.77,398.11 L55.09,396.45 L59.40,394.84 L63.72,394.53 L68.04,395.75 L72.35,395.11 L76.67,401.51 L80.99,407.24 L85.31,417.97 L89.62,424.27 L93.94,434.32 L98.26,444.25 L102.57,443.84 L106.89,426.83 L111.21,404.92 L115.53,400.63 L119.84,407.52 L124.16,419.49 L128.48,434.89 L132.79,449.78 L137.11,458.38 L141.43,453.15 L145.74,449.19 L150.06,440.68 L154.38,415.03 L158.69,411.88 L163.01,412.76 L167.33,417.31 L171.65,422.31 L175.96,425.87 L180.28,440.57 L184.60,433.40 L188.91,442.25 L193.23,435.84 L197.55,453.48 L201.87,454.41 L206.18,459.29 L210.50,460.32 L214.82,462.23 L219.13,465.60 L223.45,465.60 L227.77,464.83 L232.08,458.55 L236.40,447.31 L240.72,429.25 L245.03,416.98 L249.35,411.46 L253.67,421.56 L257.99,435.55 L262.30,453.55 L266.62,457.25 L270.94,444.33 L275.25,420.70 L279.57,400.90 L283.89,401.59 L288.21,404.25 L292.52,416.94 L296.84,422.53 L301.16,440.73 L305.47,451.65 L309.79,451.55 L314.11,453.77 L318.42,454.48 L322.74,457.28 L327.06,456.08 L331.38,452.96 L335.69,456.62 L340.01,460.01 L344.33,456.67 L348.64,440.85 L352.96,420.51 L357.28,417.20 L361.59,418.42 L365.91,428.46 L370.23,416.03 L374.55,407.80 L378.86,402.68 L383.18,412.58 L387.50,422.99 L391.81,436.93 L396.13,448.67 L400.45,452.77 L404.76,458.89 L409.08,459.56 L413.40,461.45 L417.72,461.27 L422.03,461.86 L426.35,462.36 L430.67,462.50 L434.98,461.63 L439.30,454.78 L443.62,445.59 L447.93,433.29 L452.25,429.44 L456.57,426.92 L460.89,419.28 L465.20,408.66 L469.52,399.95 L473.84,406.80 L478.15,420.35 L482.47,430.99 L486.79,435.20 L491.10,438.07 L495.42,442.93 L499.74,448.25 L504.06,456.67 L508.37,451.94 L512.69,451.03 L517.01,451.96 L521.32,457.15 L525.64,452.43 L529.96,444.77 L534.27,435.13 L538.59,435.03 L542.91,435.74 L547.23,446.54 L551.54,438.75 L555.86,430.58 L560.18,416.78 L564.49,404.85 L568.81,399.56 L573.13,402.25 L577.44,417.62 L581.76,429.53 L586.08,424.69 L590.40,405.19 L594.71,397.96 L599.03,397.99 L603.35,397.48 L607.66,404.19 L611.98,410.23 L616.30,417.58 L620.61,420.20 L624.93,422.69 L629.25,416.57 L633.57,405.86 L637.88,404.10 L642.20,415.48 L646.52,432.03 L650.83,447.59 L655.15,442.10" stroke="#5cc8bc" stroke-width="1"/>
<path d="M3.28,457.55 L7.60,445.10 L11.92,431.20 L16.23,420.95 L20.55,420.95 L24.87,424.90 L29.19,433.60 L33.50,438.74 L37.82,436.11 L42.14,425.44 L46.45,411.62 L50.77,402.19 L55.09,397.96 L59.40,396.47 L63.72,395.28 L68.04,395.04 L72.35,395.13 L76.67,397.46 L80.99,401.29 L85.31,408.91 L89.62,416.49 L93.94,425.52 L98.26,434.28 L102.57,440.80 L106.89,438.31 L111.21,425.20 L115.53,410.79 L119.84,404.36 L124.16,409.21 L128.48,420.63 L132.79,434.72 L137.11,447.69 L141.43,453.77 L145.74,453.58 L150.06,447.67 L154.38,434.97 L158.69,422.53 L163.01,413.23 L167.33,413.98 L171.65,417.46 L175.96,421.83 L180.28,429.58 L184.60,433.28 L188.91,438.74 L193.23,437.16 L197.55,443.86 L201.87,447.91 L206.18,455.73 L210.50,458.01 L214.82,460.62 L219.13,462.72 L223.45,464.48 L227.77,465.34 L232.08,462.99 L236.40,456.90 L240.72,445.04 L245.03,431.18 L249.35,419.23 L253.67,416.67 L257.99,422.86 L262.30,436.89 L266.62,448.79 L270.94,451.71 L275.25,440.76 L279.57,421.97 L283.89,407.73 L288.21,402.25 L292.52,407.59 L296.84,414.57 L301.16,426.73 L305.47,438.31 L309.79,447.98 L314.11,452.32 L318.42,453.27 L322.74,455.17 L327.06,455.95 L331.38,455.44 L335.69,455.22 L340.01,456.53 L344.33,457.77 L348.64,452.51 L352.96,439.34 L357.28,426.18 L361.59,418.71 L365.91,421.36 L370.23,420.97 L374.55,417.43 L378.86,408.84 L383.18,407.69 L387.50,412.75 L391.81,424.17 L396.13,436.20 L400.45,446.12 L404.76,453.44 L409.08,457.07 L413.40,459.97 L417.72,460.76 L422.03,461.53 L426.35,461.83 L430.67,462.24 L434.98,462.16 L439.30,459.63 L443.62,454.00 L447.93,444.55 L452.25,436.11 L456.57,429.88 L460.89,425.21 L465.20,418.29 L469.52,409.30 L473.84,405.13 L478.15,409.03 L482.47,419.38 L486.79,428.84 L491.10,434.75 L495.42,438.73 L499.74,443.08 L504.06,449.28 L508.37,452.29 L512.69,453.21 L517.01,451.64 L521.32,453.38 L525.64,453.85 L529.96,451.45 L534.27,444.11 L538.59,438.31 L542.91,435.30 L547.23,439.10 L551.54,440.34 L555.86,438.62 L560.18,428.70 L564.49,417.41 L568.81,407.06 L573.13,402.22 L577.44,406.47 L581.76,416.46 L586.08,423.94 L590.40,419.80 L594.71,409.28 L599.03,400.38 L603.35,397.81 L607.66,399.89 L611.98,403.97 L616.30,410.67 L620.61,416.00 L624.93,420.16 L629.25,419.82 L633.57,415.04 L637.88,408.84 L642.20,408.48 L646.52,417.20 L650.83,431.70 L655.15,442.27" stroke="#f04848" stroke-width="1.1" stroke-dasharray="1.5,1.6"/>
</g>
<rect x="2.8" y="467" width="1" height="1.5" fill="#6e6ee6"/>
<text class="ax" x="2.8" y="475" textLength="36.4" lengthAdjust="spacingAndGlyphs" style="stroke-width:0.08px">10 Jun 2022</text>
<rect x="54.6" y="467" width="1" height="1.5" fill="#6e6ee6"/>
<text class="ax" x="54.6" y="475" textLength="39.0" lengthAdjust="spacingAndGlyphs" style="stroke-width:0.08px">10 Jun 18:15</text>
<rect x="106.4" y="467" width="1" height="1.5" fill="#6e6ee6"/>
<text class="ax" x="106.4" y="475" textLength="39.0" lengthAdjust="spacingAndGlyphs" style="stroke-width:0.08px">10 Jun 21:15</text>
<rect x="158.2" y="467" width="1" height="1.5" fill="#6e6ee6"/>
<text class="ax" x="158.2" y="475" textLength="39.0" lengthAdjust="spacingAndGlyphs" style="stroke-width:0.08px">13 Jun 01:15</text>
<rect x="210.0" y="467" width="1" height="1.5" fill="#6e6ee6"/>
<text class="ax" x="210.0" y="475" textLength="39.0" lengthAdjust="spacingAndGlyphs" style="stroke-width:0.08px">13 Jun 04:15</text>
<rect x="261.9" y="467" width="1" height="1.5" fill="#6e6ee6"/>
<text class="ax" x="261.9" y="475" textLength="39.0" lengthAdjust="spacingAndGlyphs" style="stroke-width:0.08px">13 Jun 07:15</text>
<rect x="313.7" y="467" width="1" height="1.5" fill="#6e6ee6"/>
<text class="ax" x="313.7" y="475" textLength="39.0" lengthAdjust="spacingAndGlyphs" style="stroke-width:0.08px">13 Jun 10:15</text>
<rect x="365.5" y="467" width="1" height="1.5" fill="#6e6ee6"/>
<text class="ax" x="365.5" y="475" textLength="39.0" lengthAdjust="spacingAndGlyphs" style="stroke-width:0.08px">13 Jun 13:15</text>
<rect x="417.3" y="467" width="1" height="1.5" fill="#6e6ee6"/>
<text class="ax" x="417.3" y="475" textLength="39.0" lengthAdjust="spacingAndGlyphs" style="stroke-width:0.08px">13 Jun 16:15</text>
<rect x="469.1" y="467" width="1" height="1.5" fill="#6e6ee6"/>
<text class="ax" x="469.1" y="475" textLength="39.0" lengthAdjust="spacingAndGlyphs" style="stroke-width:0.08px">13 Jun 19:15</text>
<rect x="520.9" y="467" width="1" height="1.5" fill="#6e6ee6"/>
<text class="ax" x="520.9" y="475" textLength="39.0" lengthAdjust="spacingAndGlyphs" style="stroke-width:0.08px">13 Jun 22:15</text>
<rect x="572.7" y="467" width="1" height="1.5" fill="#6e6ee6"/>
<text class="ax" x="572.7" y="475" textLength="39.0" lengthAdjust="spacingAndGlyphs" style="stroke-width:0.08px">14 Jun 02:15</text>
<rect x="624.5" y="467" width="1" height="1.5" fill="#6e6ee6"/>
<text class="ax" x="624.5" y="475" textLength="39.0" lengthAdjust="spacingAndGlyphs" style="stroke-width:0.08px">14 Jun 05:15</text>
<path d="M4,6 L9.5,6 L6.75,9 Z" fill="#1a1aa0"/>
<text class="ax" x="12.2" y="10.6" textLength="44" lengthAdjust="spacingAndGlyphs">XAUUSD#,M15</text>
<text class="ax" x="61.3" y="10.6" textLength="105.4" lengthAdjust="spacingAndGlyphs">1825.43 1826.84 1825.43 1826.52</text>
<text class="ax" x="5" y="401" textLength="92" lengthAdjust="spacingAndGlyphs">Stoch(5,3,3) 32.1092 31.8707</text>
<polygon points="187.74,30.52 202.99,38.34 218.28,46.06 233.59,53.76 248.90,61.45 264.21,69.13 279.53,76.81 294.84,84.49 310.16,92.17 325.48,99.84 340.80,107.51 356.12,115.18 371.44,122.85 386.76,130.52 402.08,138.18 417.41,145.85 432.73,153.52 448.05,161.18 463.38,168.84 478.70,176.51 494.02,184.17 509.35,191.83 524.67,199.49 540.00,207.15 555.32,214.82 570.65,222.48 585.97,230.14 601.30,237.80 616.62,245.46 631.95,253.11 647.28,260.77 648.77,257.77 633.43,250.14 618.09,242.51 602.75,234.89 587.40,227.26 572.06,219.64 556.72,212.02 541.37,204.39 526.03,196.77 510.69,189.15 495.34,181.52 480.00,173.90 464.65,166.28 449.31,158.66 433.96,151.04 418.62,143.42 403.27,135.80 387.93,128.18 372.58,120.57 357.23,112.95 341.88,105.34 326.53,97.72 311.19,90.11 295.83,82.50 280.48,74.89 265.13,67.29 249.77,59.69 234.42,52.10 219.05,44.51 203.68,36.94 188.26,29.48" fill="#1aa61a"/>
<polygon points="652.50,261.50 644.05,260.53 646.63,255.34" fill="#1aa61a"/>
<polygon points="468.65,291.19 547.39,348.53 549.47,345.59 469.35,290.21" fill="#fbb40c"/><polygon points="553.00,350.30 544.62,348.28 548.33,343.06" fill="#fbb40c"/>
<polygon points="553.29,350.64 643.56,310.77 642.24,307.85 552.71,349.36" fill="#fbb40c"/><polygon points="648.00,307.00 642.11,313.40 639.31,307.20" fill="#fbb40c"/>
<text class="cj" x="504.3" y="185" textLength="149.5" lengthAdjust="spacingAndGlyphs" style="font-size:14px">阻力 1842.46至1845.77</text>
<text class="cj" x="614.2" y="356.5" textLength="149.2" lengthAdjust="spacingAndGlyphs" style="font-size:14px">支撐 1819.28至1823.43</text>
<text class="cj" x="4.6" y="388.2" textLength="98.9" lengthAdjust="spacingAndGlyphs" style="font-size:14px;fill:#3c3c3c">2022年6月14日</text>
<text class="cj" x="105.2" y="388.2" textLength="93.5" lengthAdjust="spacingAndGlyphs" style="font-size:14px;fill:#3c3c3c">黃金15分鐘K線</text>
</svg></body></html>
